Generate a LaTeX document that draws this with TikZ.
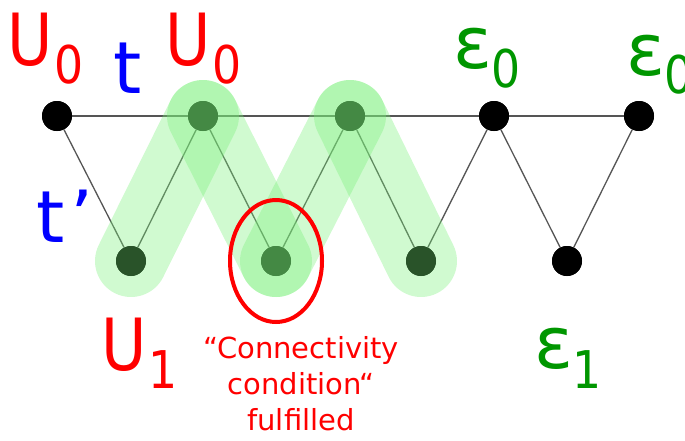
\documentclass[tikz,border=0pt]{standalone}
\usepackage{fontspec}
\usepackage{graphicx}
\setmainfont{DejaVu Sans}
\definecolor{lblred}{RGB}{255,0,0}
\definecolor{lblblue}{RGB}{0,0,255}
\definecolor{lblgreen}{RGB}{0,150,0}
\definecolor{bandgreen}{RGB}{120,240,120}
\definecolor{edgegray}{RGB}{85,85,85}
\newcommand\bigtxt{\fontsize{72}{72}\selectfont}
\newcommand\subtxt{\fontsize{52}{52}\selectfont}
\newcommand\narrowU{\scalebox{0.86}[1]{U}}
\newcommand\subnum[2]{\kern#1\raisebox{#2}{\subtxt\scalebox{0.88}[1]}}
\tikzset{
  vtx/.style={circle, fill=black, minimum size=30pt, inner sep=0pt},
  edge/.style={draw=edgegray, line width=1.3pt},
  band/.style={draw=bandgreen, line width=72pt, line cap=round, opacity=0.35},
  lab/.style={anchor=base west, inner sep=0pt, font=\bigtxt},
  note/.style={red, line width=4pt},
}
\begin{document}
\begin{tikzpicture}[x=1pt,y=-1pt]
\useasboundingbox (0,0) rectangle (685,440);
% vertices
\node[vtx] (a1) at (57,116) {};
\node[vtx] (a2) at (203,116) {};
\node[vtx] (a3) at (350,116) {};
\node[vtx] (a4) at (494,116) {};
\node[vtx] (a5) at (639,116) {};
\node[vtx] (b1) at (131,261) {};
\node[vtx] (b2) at (276,261) {};
\node[vtx] (b3) at (421,261) {};
\node[vtx] (b4) at (567,261) {};
% edges
\draw[edge] (a1) -- (a5);
\draw[edge] (a1) -- (b1) -- (a2) -- (b2) -- (a3) -- (b3) -- (a4) -- (b4) -- (a5);
% vertices above edges
\foreach \v in {a1,a2,a3,a4,a5,b1,b2,b3,b4} \fill[black] (\v) circle (15pt);
% green bands
\draw[band] (b1.center) -- (a2.center);
\draw[band] (a2.center) -- (b2.center);
\draw[band] (b2.center) -- (a3.center);
\draw[band] (a3.center) -- (b3.center);
% red ellipse
\draw[note] (b2.center) ellipse [x radius=46, y radius=61];
% labels
\node[lab, lblred] (lu0a) at (7,65) {\narrowU\kern2pt\raisebox{-18pt}{\subtxt\scalebox{0.88}[1]{0}}};
\node[lab, lblblue] (lt) at (113,93) {t};
\node[lab, lblred] (lu0b) at (165,65) {\narrowU\kern2pt\raisebox{-18pt}{\subtxt\scalebox{0.88}[1]{0}}};
\node[lab, lblgreen] (le0a) at (453,68) {ε\kern-1pt\raisebox{-19pt}{\subtxt\scalebox{0.88}[1]{0}}};
\node[lab, lblgreen] (le0b) at (626,75) {ε\kern-1pt\raisebox{-18pt}{\subtxt\scalebox{0.88}[1]{0}}};
\node[lab, lblblue] (ltp) at (36,242) {t\kern6pt’};
\node[lab, lblred] (lu1) at (101,370) {\narrowU\kern2pt\raisebox{-18pt}{\subtxt\scalebox{0.88}[1]{1}}};
\node[lab, lblgreen] (le1) at (534,368) {ε\kern-1pt\raisebox{-20pt}{\subtxt\scalebox{0.88}[1]{1}}};
\node[anchor=north, inner sep=0pt, align=center, text=lblred, font=\fontsize{29}{36}\selectfont] (cond) at (301,336) {“Connectivity\\condition“\\fulfilled};
\end{tikzpicture}
\end{document}
